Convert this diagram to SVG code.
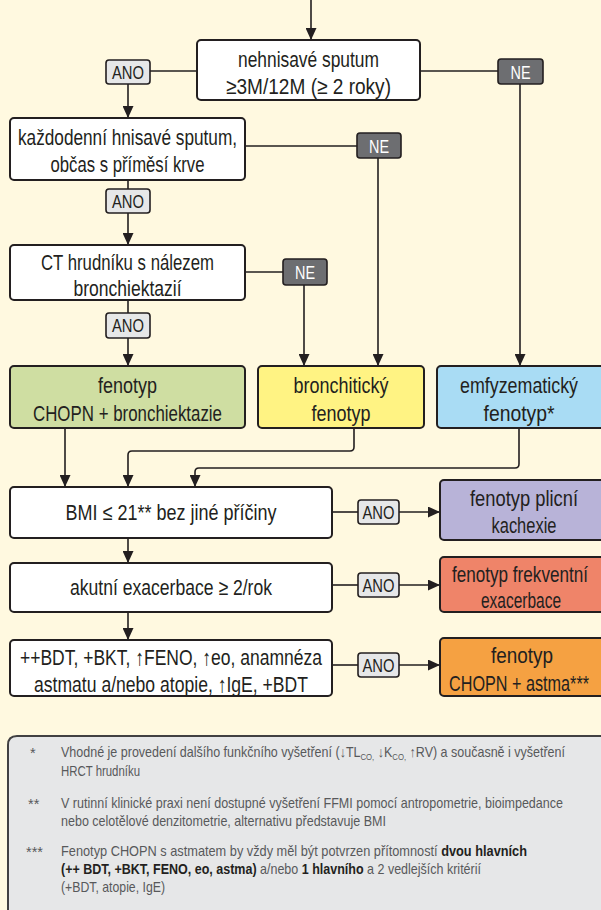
<svg xmlns="http://www.w3.org/2000/svg" width="601" height="910" viewBox="0 0 601 910">
<defs>
<marker id="ah" viewBox="0 0 12 11" refX="12" refY="5.5" markerWidth="12" markerHeight="11" markerUnits="userSpaceOnUse" orient="auto"><path d="M0,0 L12,5.5 L0,11 z" fill="#231f20"/></marker>
<style>
.box{stroke:#231f20;stroke-width:2}
.w{fill:#ffffff}
.ano{fill:#e6e7e8;stroke:#231f20;stroke-width:1.6}
.ne{fill:#6d6e71;stroke:#231f20;stroke-width:1.6}
.t{font-family:"Liberation Sans",Arial,sans-serif;font-size:22px;fill:#231f20;text-anchor:middle}
.p{font-family:"Liberation Sans",Arial,sans-serif;font-size:19px;fill:#231f20;text-anchor:middle}
.pn{font-family:"Liberation Sans",Arial,sans-serif;font-size:19px;fill:#ffffff;text-anchor:middle}
.f{font-family:"Liberation Sans",Arial,sans-serif;font-size:14.5px;fill:#58595b}
.fb{font-weight:bold;fill:#231f20}
.c{stroke:#231f20;stroke-width:1.6;fill:none}
.ca{stroke:#231f20;stroke-width:1.6;fill:none;marker-end:url(#ah)}
</style>
</defs>
<rect x="0" y="0" width="601" height="910" fill="#fff9e0"/>

<g id="connectors">
<path class="ca" d="M311,0 V40"/>
<path class="c" d="M197,71 H150"/>
<path class="ca" d="M128,84 V118"/>
<path class="c" d="M420,71 H498"/>
<path class="ca" d="M520,84 V366"/>
<path class="c" d="M245,146 H357"/>
<path class="ca" d="M378,158 V366"/>
<path class="c" d="M128,180 V189"/>
<path class="ca" d="M128,213 V245"/>
<path class="c" d="M245,272 H283"/>
<path class="ca" d="M304,285 V366"/>
<path class="c" d="M128,300 V313"/>
<path class="ca" d="M128,338 V366"/>
<path class="ca" d="M65,428 V487"/>
<path class="ca" d="M354,428 V447 Q354,451 350,451 H132 Q128,451 128,455 V487"/>
<path class="ca" d="M519,428 V464 Q519,468 515,468 H199 Q195,468 195,472 V487"/>
<path class="c" d="M332,512 H358"/>
<path class="ca" d="M399,512 H440"/>
<path class="ca" d="M128,538 V563"/>
<path class="c" d="M332,585 H358"/>
<path class="ca" d="M399,585 H440"/>
<path class="ca" d="M128,612 V640"/>
<path class="c" d="M332,665 H358"/>
<path class="ca" d="M399,665 H440"/>
</g>

<g id="q1">
<rect class="box w" x="197" y="40" width="223" height="60" rx="4"/>
<text class="t" x="308.5" y="67" textLength="141" lengthAdjust="spacingAndGlyphs">nehnisavé sputum</text>
<text class="t" x="308.5" y="94" textLength="165" lengthAdjust="spacingAndGlyphs">≥3M/12M (≥ 2 roky)</text>
</g>
<g id="ano1"><rect class="ano" x="106" y="60" width="44" height="24" rx="3"/><text class="p" x="128" y="79" textLength="32" lengthAdjust="spacingAndGlyphs">ANO</text></g>
<g id="ne1"><rect class="ne" x="498" y="59" width="45" height="25" rx="3"/><text class="pn" x="520.5" y="79" textLength="20" lengthAdjust="spacingAndGlyphs">NE</text></g>

<g id="q2">
<rect class="box w" x="10" y="118" width="235" height="62" rx="4"/>
<text class="t" x="127.5" y="145" textLength="219" lengthAdjust="spacingAndGlyphs">každodenní hnisavé sputum,</text>
<text class="t" x="127.5" y="172" textLength="154" lengthAdjust="spacingAndGlyphs">občas s příměsí krve</text>
</g>
<g id="ne2"><rect class="ne" x="357" y="133" width="44" height="25" rx="3"/><text class="pn" x="379" y="153" textLength="20" lengthAdjust="spacingAndGlyphs">NE</text></g>
<g id="ano2"><rect class="ano" x="106" y="189" width="44" height="24" rx="3"/><text class="p" x="128" y="208" textLength="32" lengthAdjust="spacingAndGlyphs">ANO</text></g>

<g id="q3">
<rect class="box w" x="10" y="245" width="235" height="55" rx="4"/>
<text class="t" x="127.5" y="270" textLength="173" lengthAdjust="spacingAndGlyphs">CT hrudníku s nálezem</text>
<text class="t" x="127.5" y="296" textLength="108" lengthAdjust="spacingAndGlyphs">bronchiektazií</text>
</g>
<g id="ne3"><rect class="ne" x="283" y="259" width="44" height="26" rx="3"/><text class="pn" x="305" y="279" textLength="20" lengthAdjust="spacingAndGlyphs">NE</text></g>
<g id="ano3"><rect class="ano" x="106" y="313" width="44" height="25" rx="3"/><text class="p" x="128" y="332" textLength="32" lengthAdjust="spacingAndGlyphs">ANO</text></g>

<g id="green">
<rect class="box" fill="#cfdea2" x="10" y="366" width="235" height="62" rx="4"/>
<text class="t" x="127.5" y="393" textLength="59" lengthAdjust="spacingAndGlyphs">fenotyp</text>
<text class="t" x="127.5" y="421" textLength="189" lengthAdjust="spacingAndGlyphs">CHOPN + bronchiektazie</text>
</g>
<g id="yellow">
<rect class="box" fill="#fff383" x="258" y="366" width="166" height="62" rx="4"/>
<text class="t" x="341" y="393" textLength="95" lengthAdjust="spacingAndGlyphs">bronchitický</text>
<text class="t" x="341" y="421" textLength="59" lengthAdjust="spacingAndGlyphs">fenotyp</text>
</g>
<g id="blue">
<rect class="box" fill="#a9dcf4" x="437" y="366" width="170" height="62" rx="4"/>
<text class="t" x="519" y="393" textLength="118" lengthAdjust="spacingAndGlyphs">emfyzematický</text>
<text class="t" x="519" y="421" textLength="71" lengthAdjust="spacingAndGlyphs">fenotyp*</text>
</g>

<g id="q4">
<rect class="box w" x="10" y="487" width="322" height="51" rx="4"/>
<text class="t" x="171" y="520" textLength="211" lengthAdjust="spacingAndGlyphs">BMI ≤ 21** bez jiné příčiny</text>
</g>
<g id="ano4"><rect class="ano" x="358" y="500" width="41" height="24" rx="3"/><text class="p" x="378.5" y="519" textLength="32" lengthAdjust="spacingAndGlyphs">ANO</text></g>
<g id="purple">
<rect class="box" fill="#b8b3d8" x="440" y="480" width="167" height="60" rx="4"/>
<text class="t" x="524" y="506" textLength="108" lengthAdjust="spacingAndGlyphs">fenotyp plicní</text>
<text class="t" x="524" y="533" textLength="65" lengthAdjust="spacingAndGlyphs">kachexie</text>
</g>

<g id="q5">
<rect class="box w" x="10" y="563" width="322" height="49" rx="4"/>
<text class="t" x="171" y="595" textLength="202" lengthAdjust="spacingAndGlyphs">akutní exacerbace ≥ 2/rok</text>
</g>
<g id="ano5"><rect class="ano" x="358" y="573" width="41" height="24" rx="3"/><text class="p" x="378.5" y="592" textLength="32" lengthAdjust="spacingAndGlyphs">ANO</text></g>
<g id="red">
<rect class="box" fill="#ef8469" x="440" y="557" width="167" height="55" rx="4"/>
<text class="t" x="520" y="582" textLength="136" lengthAdjust="spacingAndGlyphs">fenotyp frekventní</text>
<text class="t" x="521" y="608" textLength="80" lengthAdjust="spacingAndGlyphs">exacerbace</text>
</g>

<g id="q6">
<rect class="box w" x="10" y="640" width="322" height="56" rx="4"/>
<text class="t" x="171" y="665" textLength="302" lengthAdjust="spacingAndGlyphs">++BDT, +BKT, ↑FENO, ↑eo, anamnéza</text>
<text class="t" x="171" y="692" textLength="274" lengthAdjust="spacingAndGlyphs">astmatu a/nebo atopie, ↑IgE, +BDT</text>
</g>
<g id="ano6"><rect class="ano" x="358" y="653" width="41" height="24" rx="3"/><text class="p" x="378.5" y="672" textLength="32" lengthAdjust="spacingAndGlyphs">ANO</text></g>
<g id="orange">
<rect class="box" fill="#f5a142" x="440" y="638" width="167" height="58" rx="4"/>
<text class="t" x="522" y="663" textLength="62" lengthAdjust="spacingAndGlyphs">fenotyp</text>
<text class="t" x="519" y="691" textLength="140" lengthAdjust="spacingAndGlyphs">CHOPN + astma***</text>
</g>

<g id="footnotes">
<rect x="8" y="736" width="600" height="180" rx="9" fill="#e6e7e8"/>
<path d="M8,910 V745 Q8,736 17,736 H601" fill="none" stroke="#414042" stroke-width="2"/>
<text class="f" x="30" y="758">*</text>
<text class="f" x="61" y="757" textLength="504" lengthAdjust="spacingAndGlyphs">Vhodné je provedení dalšího funkčního vyšetření (↓TL<tspan font-size="9" dy="3">CO,</tspan><tspan dy="-3"> ↓K</tspan><tspan font-size="9" dy="3">CO,</tspan><tspan dy="-3"> ↑RV) a současně i vyšetření</tspan></text>
<text class="f" x="61" y="776" textLength="79" lengthAdjust="spacingAndGlyphs">HRCT hrudníku</text>
<text class="f" x="28" y="809">**</text>
<text class="f" x="61" y="808" textLength="502" lengthAdjust="spacingAndGlyphs">V rutinní klinické praxi není dostupné vyšetření FFMI pomocí antropometrie, bioimpedance</text>
<text class="f" x="61" y="826" textLength="325" lengthAdjust="spacingAndGlyphs">nebo celotělové denzitometrie, alternativu představuje BMI</text>
<text class="f" x="26" y="857">***</text>
<text class="f" x="61" y="856" textLength="466" lengthAdjust="spacingAndGlyphs">Fenotyp CHOPN s astmatem by vždy měl být potvrzen přítomností <tspan class="fb">dvou hlavních</tspan></text>
<text class="f" x="61" y="874" textLength="420" lengthAdjust="spacingAndGlyphs"><tspan class="fb">(++ BDT, +BKT, FENO, eo, astma)</tspan> a/nebo <tspan class="fb">1 hlavního</tspan> a 2 vedlejších kritérií</text>
<text class="f" x="61" y="892" textLength="104" lengthAdjust="spacingAndGlyphs">(+BDT, atopie, IgE)</text>
</g>
</svg>
